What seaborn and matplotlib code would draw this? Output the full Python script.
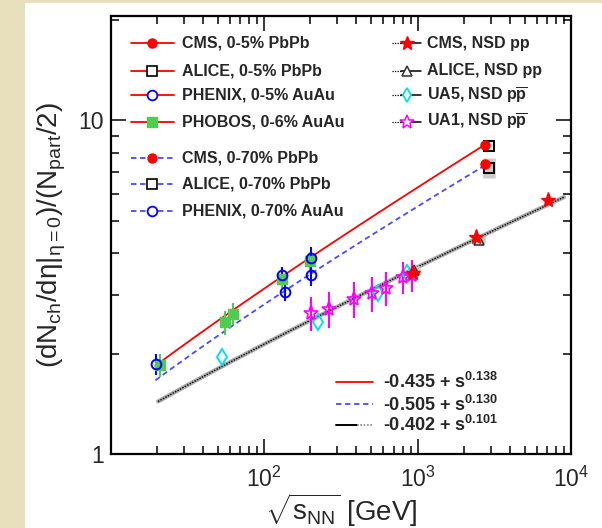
import numpy as np
import pandas as pd
import seaborn as sns
import matplotlib.pyplot as plt
from matplotlib.patches import Rectangle
from matplotlib.ticker import NullFormatter

# ---- data ----
# central heavy-ion collisions
cms_c_x = [2760]
cms_c_y = [8.45]
alice_c_x = [2900]
alice_c_y = [8.40]
phenix_c_x = [19.8, 131.5, 201]
phenix_c_y = [1.86, 3.44, 3.87]
phenix_c_err = [0.14, 0.20, 0.30]
phobos_x = [21.1, 56, 62.4, 130, 200]
phobos_y = [1.85, 2.48, 2.63, 3.34, 3.78]
phobos_err = [0.15, 0.20, 0.20, 0.20, 0.25]

# 0-70% centrality
cms_m_x = [2760]
cms_m_y = [7.41]
alice_m_x = [2900]
alice_m_y = [7.20]
alice_m_syst = [0.50]
phenix_m_x = [137, 203]
phenix_m_y = [3.06, 3.43]
phenix_m_err = [0.19, 0.24]

# pp / ppbar
cms_pp_x = [930, 2410, 7100]
cms_pp_y = [3.48, 4.47, 5.78]
alice_pp_x = [953, 2510]
alice_pp_y = [3.55, 4.39]
alice_pp_syst = [0.10, 0.10]
ua5_x = [53.4, 223, 550, 853]
ua5_y = [1.95, 2.48, 3.03, 3.48]
ua1_x = [201, 263, 383, 502, 625, 800, 916]
ua1_y = [2.64, 2.72, 2.92, 3.03, 3.14, 3.39, 3.44]
ua1_err = [0.31, 0.33, 0.36, 0.36, 0.37, 0.38, 0.38]

# fits shown in the legend: a + s^b
fit_a = [-0.435, -0.505, -0.402]
fit_b = [0.138, 0.130, 0.101]
fit_lo = [19.6, 19.6, 20.4]
fit_hi = [2760, 2760, 9000]

RED = '#ff0000'
BLUE = '#0000ff'
BLUE_LINE = '#4a4aff'
GREEN = '#50cc50'
CYAN = '#00e0f0'
MAGENTA = '#ff00ff'

sns.set_theme(style='ticks')
plt.rcParams['font.family'] = ['Liberation Sans', 'DejaVu Sans']
plt.rcParams['mathtext.fontset'] = 'custom'
plt.rcParams['mathtext.rm'] = 'Liberation Sans'
plt.rcParams['mathtext.it'] = 'Liberation Sans:italic'
plt.rcParams['mathtext.bf'] = 'Liberation Sans:bold'
plt.rcParams['mathtext.sf'] = 'Liberation Sans'

fig = plt.figure(figsize=(6.02, 5.28), dpi=100)
fig.patch.set_facecolor('#e8e0bc')
fig.add_artist(Rectangle((25 / 602, 0), 1, 1 - 3.3 / 528, transform=fig.transFigure,
                         facecolor='white', edgecolor='none', zorder=-1))
ax = fig.add_axes([0.1836, 0.1402, 0.765, 0.830])
ax.set_xscale('log')
ax.set_yscale('log')

# fit curves
styles = [dict(color=RED, lw=1.3, ls='-'),
          dict(color=BLUE_LINE, lw=1.3, ls=(0, (3, 2))),
          dict(color='black', lw=1.0, ls=(0, (1, 1)))]
for a, b, lo, hi, st in zip(fit_a, fit_b, fit_lo, fit_hi, styles):
    xs = np.geomspace(lo, hi, 200)
    df = pd.DataFrame({'x': xs, 'y': a + xs ** (2 * b)})
    if st['color'] == 'black':
        sns.lineplot(data=df, x='x', y='y', ax=ax, color='#a8a8a8', lw=3.0, zorder=2)
    sns.lineplot(data=df, x='x', y='y', ax=ax, zorder=3, **st)

# systematic boxes
ax.errorbar(alice_m_x, alice_m_y, yerr=alice_m_syst, fmt='none', ecolor='#cccccc',
            elinewidth=9, zorder=3)
ax.errorbar(alice_pp_x, alice_pp_y, yerr=alice_pp_syst, fmt='none', ecolor='#cccccc',
            elinewidth=9, zorder=3)

# error bars
ax.errorbar(phobos_x, phobos_y, yerr=phobos_err, fmt='none', ecolor=GREEN, elinewidth=1.5, zorder=4)
ax.errorbar(phenix_c_x, phenix_c_y, yerr=phenix_c_err, fmt='none', ecolor=BLUE, elinewidth=1.5, zorder=4)
ax.errorbar(phenix_m_x, phenix_m_y, yerr=phenix_m_err, fmt='none', ecolor=BLUE, elinewidth=1.5, zorder=4)
ax.errorbar(ua1_x, ua1_y, yerr=ua1_err, fmt='none', ecolor=MAGENTA, elinewidth=1.5, zorder=4)

# markers
mk = dict(ls='none', zorder=5)
ax.plot(phobos_x, phobos_y, marker='s', ms=7, color=GREEN, mec=GREEN, **mk)
ax.plot(phenix_c_x, phenix_c_y, marker='o', ms=7, mfc='none', mec=BLUE, mew=1.4, **mk)
ax.plot(phenix_m_x, phenix_m_y, marker='o', ms=7, mfc='none', mec=BLUE, mew=1.4, **mk)
ax.plot(ua5_x, ua5_y, marker='d', ms=8, mfc='none', mec=CYAN, mew=1.4, **mk)
ax.plot(ua1_x, ua1_y, marker='*', ms=11, mfc='none', mec=MAGENTA, mew=1.2, **mk)
ax.plot(alice_pp_x, alice_pp_y, marker='^', ms=7.5, mfc='none', mec='#333333', mew=1.2, **mk)
ax.plot(cms_pp_x, cms_pp_y, marker='*', ms=11, color=RED, mec=RED, **mk)
ax.plot(alice_c_x, alice_c_y, marker='s', ms=7, mfc='none', mec='black', mew=1.4, **mk)
ax.plot(alice_m_x, alice_m_y, marker='s', ms=7, mfc='none', mec='black', mew=1.4, **mk)
ax.plot(cms_c_x, cms_c_y, marker='o', ms=6.5, color=RED, mec=RED, **mk)
ax.plot(cms_m_x, cms_m_y, marker='o', ms=6.5, color=RED, mec=RED, **mk)

# axes
ax.set_xlim(10, 10000)
ax.set_ylim(1, 20.6)
ax.set_xticks([100, 1000, 10000],
              labels=[r'$\mathdefault{10^{2}}$', r'$\mathdefault{10^{3}}$', r'$\mathdefault{10^{4}}$'])
ax.set_yticks([1, 10], labels=['1', '10'])
ax.xaxis.set_minor_formatter(NullFormatter())
ax.yaxis.set_minor_formatter(NullFormatter())
ax.tick_params(which='both', direction='in', top=True, right=True, color='black', width=1.1)
ax.tick_params(which='major', length=10.5, labelsize=16.5)
ax.tick_params(axis='x', which='major', pad=9)
ax.tick_params(axis='y', which='major', pad=5)
ax.tick_params(which='minor', length=6)
for sp in ax.spines.values():
    sp.set_linewidth(1.6)
    sp.set_color('black')

ax.set_ylabel(r'$\mathdefault{(dN_{ch}/d\eta|_{\eta=0})/(N_{part}/2)}$', fontsize=20, va='center')
ax.yaxis.set_label_coords(-0.127, 0.5)
ax.set_xlabel(r'$\sqrt{\mathdefault{s_{NN}}}$ [GeV]', fontsize=20, va='center')
ax.xaxis.set_label_coords(0.5, -0.128)

# legend, drawn by hand in axes fractions
tr = ax.transAxes
lfs = 11.5


def entry(x0, x1, xm, y, text, tx, line_kw, mark_kw, split=None):
    if split is None:
        ax.plot([x0, x1], [y, y], transform=tr, clip_on=False, **line_kw)
    else:
        ax.plot([x0, split], [y, y], transform=tr, color='black', lw=0.9, ls=(0, (1, 1)))
        ax.plot([split, x1], [y, y], transform=tr, color='black', lw=1.1)
    if mark_kw:
        ax.plot([xm], [y], transform=tr, ls='none', **mark_kw)
    ax.text(tx, y, text, transform=tr, fontsize=lfs, fontweight='bold', va='center', ha='left')


red_line = dict(color=RED, lw=1.3)
blue_line = dict(color=BLUE_LINE, lw=1.3, ls=(0, (3, 2)))
m_cms = dict(marker='o', ms=6.5, color=RED, mec=RED)
m_alice = dict(marker='s', ms=6.5, mfc='white', mec='black', mew=1.2)
m_phenix = dict(marker='o', ms=7, mfc='white', mec=BLUE, mew=1.3)
m_phobos = dict(marker='s', ms=7, color=GREEN, mec=GREEN)

rows_l = [0.937, 0.875, 0.818, 0.758, 0.675, 0.616, 0.554]
left_items = [('CMS, 0-5% PbPb', red_line, m_cms),
              ('ALICE, 0-5% PbPb', red_line, m_alice),
              ('PHENIX, 0-5% AuAu', red_line, m_phenix),
              ('PHOBOS, 0-6% AuAu', red_line, m_phobos),
              ('CMS, 0-70% PbPb', blue_line, m_cms),
              ('ALICE, 0-70% PbPb', blue_line, m_alice),
              ('PHENIX, 0-70% AuAu', blue_line, m_phenix)]
for y, (txt, lk, mkw) in zip(rows_l, left_items):
    entry(0.044, 0.138, 0.0894, y, txt, 0.1546, lk, mkw)

right_items = [('CMS, NSD pp', dict(marker='*', ms=10, color=RED, mec=RED)),
               ('ALICE, NSD pp', dict(marker='^', ms=7, mfc='white', mec='#333333', mew=1.1)),
               (r'UA5, NSD p$\overline{\mathbf{p}}$', dict(marker='d', ms=7.5, mfc='white', mec=CYAN, mew=1.3)),
               (r'UA1, NSD p$\overline{\mathbf{p}}$', dict(marker='*', ms=10, mfc='white', mec=MAGENTA, mew=1.1))]
for y, (txt, mkw) in zip(rows_l[:4], right_items):
    entry(0.611, 0.674, 0.643, y, txt, 0.687, None, mkw, split=0.630)

fit_rows = [0.165, 0.113, 0.066]
for y, a, b, st in zip(fit_rows, fit_a, fit_b, styles):
    if st['color'] == 'black':
        ax.plot([0.490, 0.536], [y, y], transform=tr, color='black', lw=1.4)
        ax.plot([0.536, 0.569], [y, y], transform=tr, color='#888888', lw=1.2, ls=(0, (1, 1)))
    else:
        ax.plot([0.490, 0.569], [y, y], transform=tr, **st)
    ax.text(0.592, y, rf'{a:.3f} + s$^{{\mathbf{{{b:.3f}}}}}$', transform=tr,
            fontsize=13, fontweight='bold', va='center', ha='left')

fig.savefig('out.png', dpi=100)
